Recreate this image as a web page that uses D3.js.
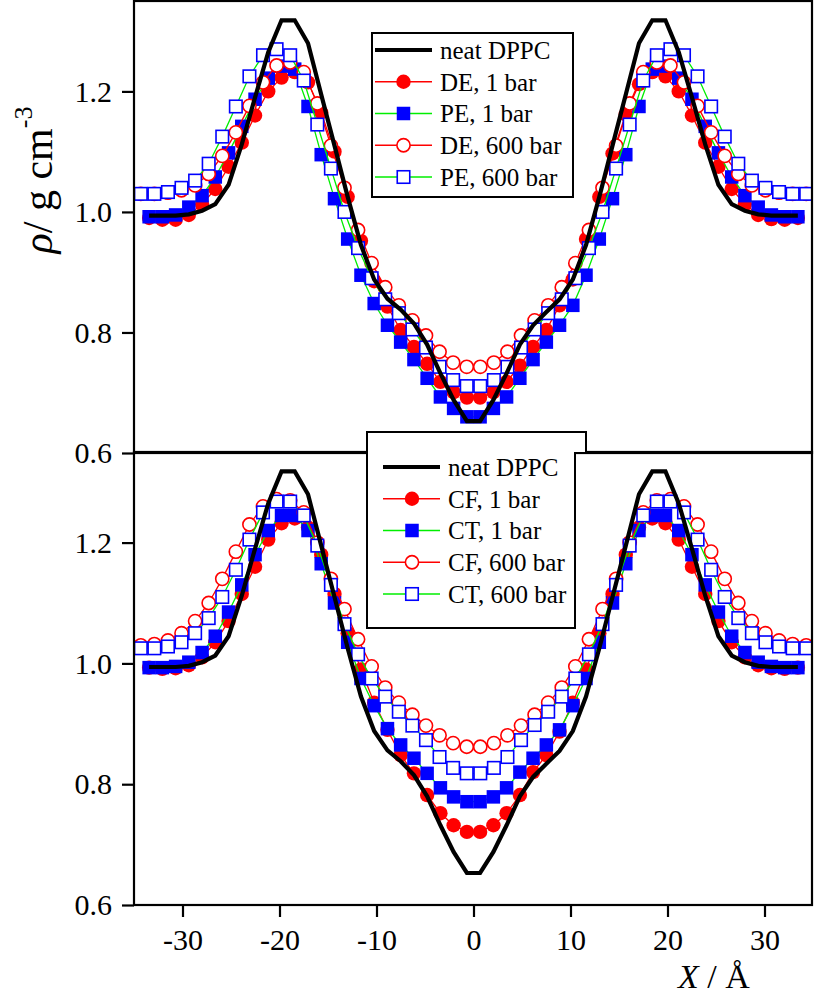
<!DOCTYPE html>
<html><head><meta charset="utf-8">
<script src="https://cdn.jsdelivr.net/npm/d3@7"></script>
<style>body{margin:0;background:#fff} svg{display:block}</style>
</head><body>
<svg id="c" width="814" height="996"></svg>
<script>
// ---------- data ----------
const xGrid1bar = [-33.44,-32.08,-30.71,-29.35,-27.98,-26.62,-25.25,-23.89,-22.52,-21.16,-19.79,-18.43,-17.06,-15.70,-14.33,-12.97,-11.60,-10.24,-8.87,-7.51,-6.14,-4.78,-3.41,-2.05,-0.68,
  0.68,2.05,3.41,4.78,6.14,7.51,8.87,10.24,11.60,12.97,14.33,15.70,17.06,18.43,19.79,21.16,22.52,23.89,25.25,26.62,27.98,29.35,30.71,32.08,33.44];
const xGrid600bar = [-34.3,-32.9,-31.5,-30.1,-28.7,-27.3,-25.9,-24.5,-23.1,-21.7,-20.3,-18.9,-17.5,-16.1,-14.7,-13.3,-11.9,-10.5,-9.1,-7.7,-6.3,-4.9,-3.5,-2.1,-0.7,
  0.7,2.1,3.5,4.9,6.3,7.7,9.1,10.5,11.9,13.3,14.7,16.1,17.5,18.9,20.3,21.7,23.1,24.5,25.9,27.3,28.7,30.1,31.5,32.9,34.3];

const neatDPPC = [0.994,0.994,0.994,0.996,1.002,1.013,1.045,1.112,1.19,1.265,1.318,1.318,1.28,1.195,1.11,1.025,0.945,0.888,0.856,0.838,0.815,0.78,0.732,0.688,0.653,
  0.653,0.688,0.732,0.78,0.812,0.834,0.855,0.888,0.945,1.025,1.11,1.195,1.28,1.318,1.318,1.265,1.19,1.112,1.045,1.013,1.002,0.996,0.994,0.994,0.994];

// top panel
const de1bar = [0.990,0.987,0.987,0.995,1.013,1.038,1.075,1.115,1.16,1.2,1.223,1.232,1.215,1.165,1.1,1.025,0.952,0.885,0.843,0.804,0.776,0.748,0.718,0.701,0.692,
  0.692,0.701,0.718,0.745,0.776,0.804,0.845,0.888,0.955,1.025,1.097,1.162,1.212,1.232,1.225,1.2,1.16,1.115,1.075,1.038,1.013,0.995,0.988,0.987,0.99];
const pe1bar = [0.992,0.992,0.995,1.008,1.027,1.058,1.098,1.142,1.187,1.222,1.242,1.237,1.175,1.095,1.022,0.955,0.895,0.848,0.812,0.784,0.755,0.724,0.693,0.674,0.66,
  0.66,0.674,0.693,0.724,0.755,0.784,0.812,0.845,0.895,0.955,1.022,1.095,1.175,1.237,1.242,1.222,1.187,1.142,1.098,1.058,1.027,1.008,0.995,0.992,0.992];
const de600bar = [1.03,1.03,1.032,1.036,1.044,1.063,1.093,1.132,1.176,1.215,1.243,1.248,1.232,1.18,1.11,1.04,0.97,0.915,0.875,0.845,0.82,0.795,0.768,0.75,0.743,
  0.743,0.75,0.768,0.795,0.82,0.845,0.875,0.915,0.97,1.04,1.11,1.18,1.232,1.248,1.243,1.215,1.176,1.132,1.093,1.063,1.044,1.036,1.032,1.03,1.03];
const pe600bar = [1.03,1.03,1.033,1.04,1.052,1.08,1.125,1.175,1.225,1.26,1.27,1.26,1.218,1.145,1.072,1.0,0.94,0.89,0.855,0.832,0.805,0.775,0.743,0.721,0.711,
  0.711,0.721,0.743,0.775,0.805,0.832,0.855,0.89,0.94,1.0,1.072,1.145,1.218,1.26,1.27,1.26,1.225,1.175,1.125,1.08,1.052,1.04,1.033,1.03,1.03];

// bottom panel
const cf1bar = [0.993,0.991,0.992,0.997,1.01,1.035,1.07,1.115,1.16,1.205,1.232,1.24,1.225,1.18,1.115,1.05,0.99,0.935,0.89,0.848,0.818,0.782,0.752,0.732,0.721,
  0.721,0.732,0.752,0.782,0.82,0.848,0.887,0.935,0.99,1.05,1.115,1.18,1.225,1.24,1.232,1.205,1.16,1.115,1.07,1.035,1.01,0.997,0.992,0.991,0.993];
const ct1bar = [0.993,0.993,0.995,1.002,1.018,1.045,1.085,1.13,1.18,1.22,1.245,1.245,1.22,1.165,1.1,1.035,0.975,0.93,0.892,0.865,0.843,0.818,0.794,0.779,0.771,
  0.771,0.779,0.794,0.82,0.843,0.865,0.89,0.93,0.975,1.035,1.1,1.165,1.22,1.245,1.245,1.22,1.18,1.13,1.085,1.045,1.018,1.002,0.995,0.993,0.993];
const cf600bar = [1.03,1.032,1.038,1.05,1.07,1.1,1.14,1.185,1.23,1.26,1.272,1.27,1.25,1.2,1.14,1.09,1.04,0.995,0.96,0.935,0.915,0.897,0.881,0.868,0.862,
  0.862,0.868,0.881,0.897,0.915,0.935,0.96,0.995,1.04,1.09,1.14,1.2,1.25,1.27,1.272,1.26,1.23,1.185,1.14,1.1,1.07,1.05,1.038,1.032,1.03];
const ct600bar = [1.025,1.025,1.028,1.035,1.05,1.075,1.11,1.155,1.205,1.25,1.268,1.268,1.245,1.195,1.13,1.065,1.015,0.975,0.945,0.92,0.897,0.873,0.845,0.827,0.818,
  0.818,0.827,0.845,0.873,0.898,0.92,0.945,0.975,1.015,1.065,1.13,1.195,1.245,1.268,1.268,1.25,1.205,1.155,1.11,1.075,1.05,1.035,1.028,1.025,1.025];

const xTicks = [-30,-20,-10,0,10,20,30];
const yTicks = [0.6,0.8,1.0,1.2];
const topLegendLabels = ["neat DPPC","DE, 1 bar","PE, 1 bar","DE, 600 bar","PE, 600 bar"];
const bottomLegendLabels = ["neat DPPC","CF, 1 bar","CT, 1 bar","CF, 600 bar","CT, 600 bar"];

// ---------- drawing ----------
const FONT = "'Liberation Serif','Times New Roman',Times,serif";
const svg = d3.select("#c");
const x = d3.scaleLinear().domain([-35,35]).range([134,813]);
const yTop = d3.scaleLinear().domain([0.6,1.35]).range([453,1]);
const yBot = d3.scaleLinear().domain([0.6,1.35]).range([905,452]);

const RED = "#ff0000", BLUE = "#0000ff", GREEN = "#00ee00";
const styles = [
  {shape:"circle", fill:RED, stroke:RED, line:RED},
  {shape:"square", fill:BLUE, stroke:BLUE, line:GREEN},
  {shape:"circle", fill:"#fff", stroke:RED, line:RED},
  {shape:"square", fill:"#fff", stroke:BLUE, line:GREEN}
];

function marker(g, st, cx, cy) {
  if (st.shape === "circle") {
    const open = st.fill === "#fff";
    g.append("circle").attr("cx", cx).attr("cy", cy).attr("r", open ? 6.6 : 7.2)
      .attr("fill", st.fill).attr("stroke", st.stroke).attr("stroke-width", open ? 1.6 : 0);
  } else {
    const open = st.fill === "#fff";
    const s = open ? 12.5 : 13.5;
    g.append("rect").attr("x", cx - s/2).attr("y", cy - s/2).attr("width", s).attr("height", s)
      .attr("fill", st.fill).attr("stroke", st.stroke).attr("stroke-width", open ? 1.6 : 0);
  }
}

function panel(id, y, seriesList, grids) {
  const [y0, y1] = y.range();
  svg.append("clipPath").attr("id", id).append("rect")
    .attr("x", x.range()[0]).attr("y", y1).attr("width", x.range()[1]-x.range()[0]).attr("height", y0-y1);
  const g = svg.append("g").attr("clip-path", `url(#${id})`);
  seriesList.forEach((vals, i) => {
    const st = styles[i];
    const xs = grids[i];
    const pts = vals.map((v, k) => [x(xs[k]), y(v)]);
    g.append("path").attr("d", d3.line()(pts)).attr("fill", "none")
      .attr("stroke", st.line).attr("stroke-width", 1.3);
    const mg = g.append("g");
    pts.forEach(p => marker(mg, st, p[0], p[1]));
  });
  const neatPts = neatDPPC.map((v, k) => [x(xGrid1bar[k]), y(v)]);
  g.append("path").attr("d", d3.line()(neatPts)).attr("fill", "none")
    .attr("stroke", "#000").attr("stroke-width", 4.2).attr("stroke-linejoin", "miter");
}

const grids = [xGrid1bar, xGrid1bar, xGrid600bar, xGrid600bar];
panel("clipTop", yTop, [de1bar, pe1bar, de600bar, pe600bar], grids);
panel("clipBot", yBot, [cf1bar, ct1bar, cf600bar, ct600bar], grids);

// frames
const fr = svg.append("g").attr("fill", "none").attr("stroke", "#000").attr("stroke-width", 2.2);
fr.append("rect").attr("x", x(-35)).attr("y", yTop(1.35)).attr("width", x(35)-x(-35)-1).attr("height", yTop(0.6)-yTop(1.35));
fr.append("rect").attr("x", x(-35)).attr("y", yBot(1.35)).attr("width", x(35)-x(-35)-1).attr("height", yBot(0.6)-yBot(1.35));

// axes
function styleAxis(sel) {
  sel.select(".domain").remove();
  sel.selectAll(".tick line").attr("stroke", "#000").attr("stroke-width", 2.2);
  sel.selectAll(".tick text").attr("font-family", FONT).attr("font-size", 30).attr("fill", "#000");
}
const fmtY = d3.format(".1f");
svg.append("g").attr("transform", `translate(${x(-35)},0)`)
  .call(d3.axisLeft(yTop).tickValues(yTicks).tickFormat(fmtY).tickSize(12).tickPadding(10)).call(styleAxis);
svg.append("g").attr("transform", `translate(${x(-35)},0)`)
  .call(d3.axisLeft(yBot).tickValues(yTicks).tickFormat(fmtY).tickSize(12).tickPadding(10)).call(styleAxis);
svg.append("g").attr("transform", `translate(0,${yBot(0.6)})`)
  .call(d3.axisBottom(x).tickValues(xTicks).tickFormat(d => String(d)).tickSize(12).tickPadding(12)).call(styleAxis);

// legends
function legend(labels, box, rowY0, dy, lineX0, lineX1, mx, tx) {
  const lg = svg.append("g");
  lg.append("path").attr("d", box).attr("fill", "#fff").attr("stroke", "#000").attr("stroke-width", 2);
  labels.forEach((lab, i) => {
    const cy = rowY0 + i*dy;
    if (i === 0) {
      lg.append("line").attr("x1", lineX0).attr("x2", lineX1).attr("y1", cy).attr("y2", cy)
        .attr("stroke", "#000").attr("stroke-width", 4.2);
    } else {
      const st = styles[i-1];
      lg.append("line").attr("x1", lineX0).attr("x2", lineX1).attr("y1", cy).attr("y2", cy)
        .attr("stroke", st.line).attr("stroke-width", 1.3);
      marker(lg, st, mx, cy);
    }
    lg.append("text").attr("x", tx).attr("y", cy).attr("dy", "0.35em")
      .attr("font-family", FONT).attr("font-size", 25).text(lab);
  });
}
legend(topLegendLabels, "M372,33H573V197H372Z", 50, 31.75, 375, 432, 403.5, 440);
legend(bottomLegendLabels, "M367,432H586V453H575V628H367Z", 467, 31.75, 383, 440, 412, 448);
svg.append("line").attr("x1", 575).attr("x2", 813).attr("y1", 453).attr("y2", 453).attr("stroke", "#000").attr("stroke-width", 2.2);

// axis titles
const yt = svg.append("text").attr("transform", "translate(52,180) rotate(-90)")
  .attr("text-anchor", "middle").attr("font-family", FONT).attr("font-size", 42);
yt.append("tspan").attr("font-style", "italic").text("ρ");
yt.append("tspan").text("/ g cm");
yt.append("tspan").attr("font-size", 26).attr("dy", -20).text("-3");

const xt = svg.append("text").attr("x", 678).attr("y", 988)
  .attr("font-family", FONT).attr("font-size", 34);
xt.append("tspan").attr("font-style", "italic").text("X");
xt.append("tspan").text(" / Å");
</script>
</body></html>
